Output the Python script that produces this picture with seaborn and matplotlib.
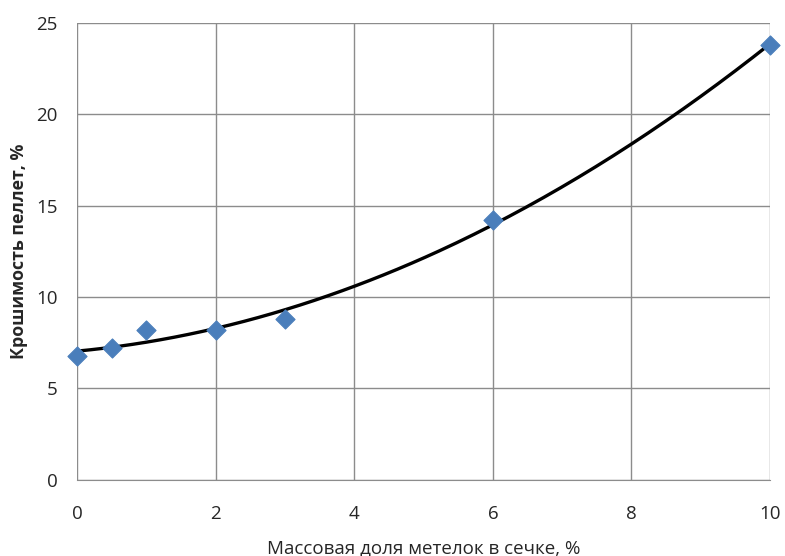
import numpy as np
import pandas as pd
import matplotlib
matplotlib.use('Agg')
import matplotlib.pyplot as plt
import seaborn as sns

# Данные: массовая доля метелок и крошимость пеллет
share = [0, 0.5, 1, 2, 3, 6, 10]
crumble = [6.8, 7.2, 8.2, 8.2, 8.8, 14.2, 23.8]

x_ticks = [0, 2, 4, 6, 8, 10]
y_ticks = [0, 5, 10, 15, 20, 25]

df = pd.DataFrame({'share': share, 'crumble': crumble})

sns.set_style('white')
plt.rcParams['font.family'] = ['Open Sans', 'DejaVu Sans']

fig = plt.figure(figsize=(7.85, 5.56), dpi=100)
ax = fig.add_axes([0.098, 0.137, 0.883, 0.822])

# ── Полиномиальная линия тренда (2-я степень) ──
coef = np.polyfit(df['share'], df['crumble'], 2)
xs = np.linspace(0, 10, 200)
trend = pd.DataFrame({'share': xs, 'crumble': np.polyval(coef, xs)})
sns.lineplot(data=trend, x='share', y='crumble', ax=ax, color='black',
             linewidth=2.4, zorder=3)

sns.scatterplot(data=df, x='share', y='crumble', ax=ax, marker='D', s=95,
                color='#4A7EBB', edgecolor='#4A7EBB', zorder=4, clip_on=False)

ax.set_xlim(0, 10)
ax.set_ylim(0, 25)
ax.set_xticks(x_ticks)
ax.set_yticks(y_ticks)
ax.grid(True, color='#8C8C8C', linewidth=1)
ax.set_axisbelow(True)
for side in ['top', 'right', 'left']:
    ax.spines[side].set_visible(False)
ax.spines['bottom'].set_color('#8C8C8C')
ax.tick_params(axis='x', length=0, labelsize=13.5, pad=18)
ax.tick_params(axis='y', length=0, labelsize=13.5, pad=14)

ax.set_xlabel('Массовая доля метелок в сечке, %', fontsize=13.5, labelpad=12)
ax.set_ylabel('Крошимость пеллет, %', fontsize=12.8, fontweight='bold', labelpad=6)

plt.savefig('out.png', dpi=100)
